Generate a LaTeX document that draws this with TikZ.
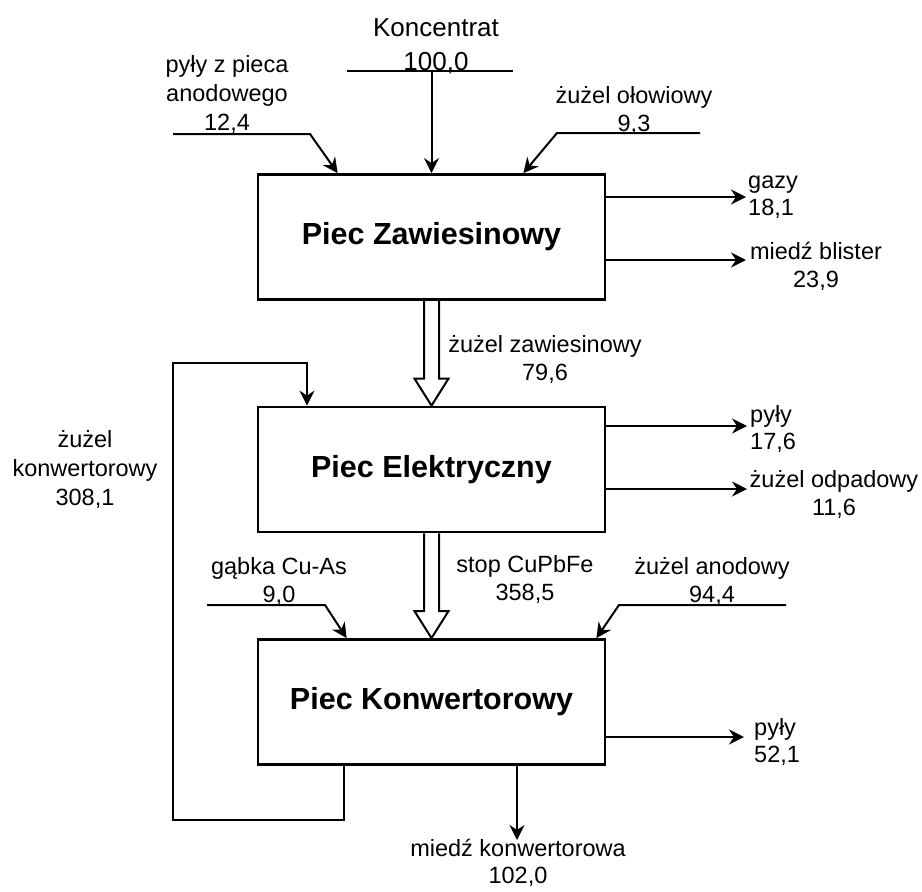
\documentclass[tikz,border=0pt]{standalone}
\usepackage{fontspec}
\setmainfont{Liberation Sans}
\usetikzlibrary{arrows.meta,calc}
\newcommand{\hollowarrow}[2]{%
  \draw[hollow] ($(#1)+(-7.5,0)$) -- ($(#2)+(-7.5,-27)$) -- ($(#2)+(-17,-27)$) -- (#2)
    -- ($(#2)+(17,-27)$) -- ($(#2)+(7.5,-27)$) -- ($(#1)+(7.5,0)$);}
\begin{document}
\begin{tikzpicture}[x=1pt,y=-1pt,
    box/.style={draw,line width=2.8pt,minimum width=347pt,minimum height=125pt,inner sep=0pt,
      font=\fontsize{30.5}{34}\selectfont\bfseries},
    wire/.style={line width=2pt},
    flow/.style={wire,-{Stealth[length=15pt,width=15pt,inset=5pt]}},
    hollow/.style={line width=2pt,line join=miter},
    lbl/.style={inner sep=0pt,align=center,font=\fontsize{23.5}{28}\selectfont},
    rlbl/.style={lbl,align=left,anchor=north west,font=\fontsize{23.5}{27}\selectfont}]
  \useasboundingbox (0,0) rectangle (922,892);
  \node[box] (zaw) at (431.5,237) {Piec Zawiesinowy};
  \node[box] (ele) at (431.5,469.5) {Piec Elektryczny};
  \node[box] (kon) at (431.5,702) {Piec Konwertorowy};
  \node[lbl,anchor=south,font=\fontsize{26}{34}\selectfont] (konc) at (436,74) {Koncentrat\\100,0};
  \node[lbl,anchor=south,font=\fontsize{23.5}{29}\selectfont] (pz) at (227,134) {pyły z pieca\\anodowego\\12,4};
  \node[lbl,anchor=south] (zo) at (634,135) {żużel ołowiowy\\9,3};
  \node[rlbl] (gz) at (748,176) {gazy\\18,1};
  \node[lbl,anchor=north] (mb) at (816,242) {miedź blister\\23,9};
  \node[lbl,anchor=south] (zz) at (545,384) {żużel zawiesinowy\\79,6};
  \node[lbl,anchor=north,font=\fontsize{23.5}{29}\selectfont] (zk) at (85,430) {żużel\\konwertorowy\\308,1};
  \node[rlbl] (pe) at (750,405) {pyły\\17,6};
  \node[lbl,anchor=north] (zodp) at (834,470) {żużel odpadowy\\11,6};
  \node[lbl,anchor=south] (gb) at (279,606) {gąbka Cu-As\\9,0};
  \node[lbl,anchor=south] (sc) at (525,604) {stop CuPbFe\\358,5};
  \node[lbl,anchor=south] (za) at (712,606) {żużel anodowy\\94,4};
  \node[rlbl] (pk) at (754,718) {pyły\\52,1};
  \node[lbl,anchor=south,font=\fontsize{23.5}{27}\selectfont] (mk) at (518,887) {miedź konwertorowa\\102,0};
  \coordinate (kL) at (347,71);
  \coordinate (kR) at (513,71);
  \coordinate (pzL) at (173,134);
  \coordinate (pzK) at (310,134);
  \coordinate (zoR) at (700,133);
  \coordinate (zoK) at (557,133);
  \coordinate (gzE) at (746,197);
  \coordinate (mbE) at (746,260);
  \coordinate (peE) at (747,426);
  \coordinate (zodpE) at (747,489);
  \coordinate (pkE) at (744,737);
  \coordinate (mkE) at (517,840);
  \coordinate (fb1) at (344,820);
  \coordinate (fb2) at (173,820);
  \coordinate (fb3) at (173,363);
  \coordinate (fb4) at (307,363);
  \coordinate (gbL) at (207,605);
  \coordinate (gbK) at (325,605);
  \coordinate (zaR) at (786,605);
  \coordinate (zaK) at (619,605);
  \draw[wire] (kL) -- (kR);
  \draw[flow] (zaw.north |- kL) -- (zaw.north);
  \draw[flow] (pzL) -- (pzK) -- ($(zaw.north west)+(81,0)$);
  \draw[flow] (zoR) -- (zoK) -- ($(zaw.north east)+(-83,0)$);
  \draw[flow] (zaw.east |- gzE) -- (gzE);
  \draw[flow] (zaw.east |- mbE) -- (mbE);
  \draw[flow] (ele.east |- peE) -- (peE);
  \draw[flow] (ele.east |- zodpE) -- (zodpE);
  \draw[flow] (kon.east |- pkE) -- (pkE);
  \draw[flow] (kon.south -| mkE) -- (mkE);
  \draw[flow] (kon.south -| fb1) -- (fb1) -- (fb2) -- (fb3) -- (fb4) -- (ele.north -| fb4);
  \draw[flow] (gbL) -- (gbK) -- ($(kon.north west)+(90,0)$);
  \draw[flow] (zaR) -- (zaK) -- ($(kon.north east)+(-10,0)$);
  \hollowarrow{zaw.south}{ele.north}
  \hollowarrow{ele.south}{kon.north}
\end{tikzpicture}
\end{document}
